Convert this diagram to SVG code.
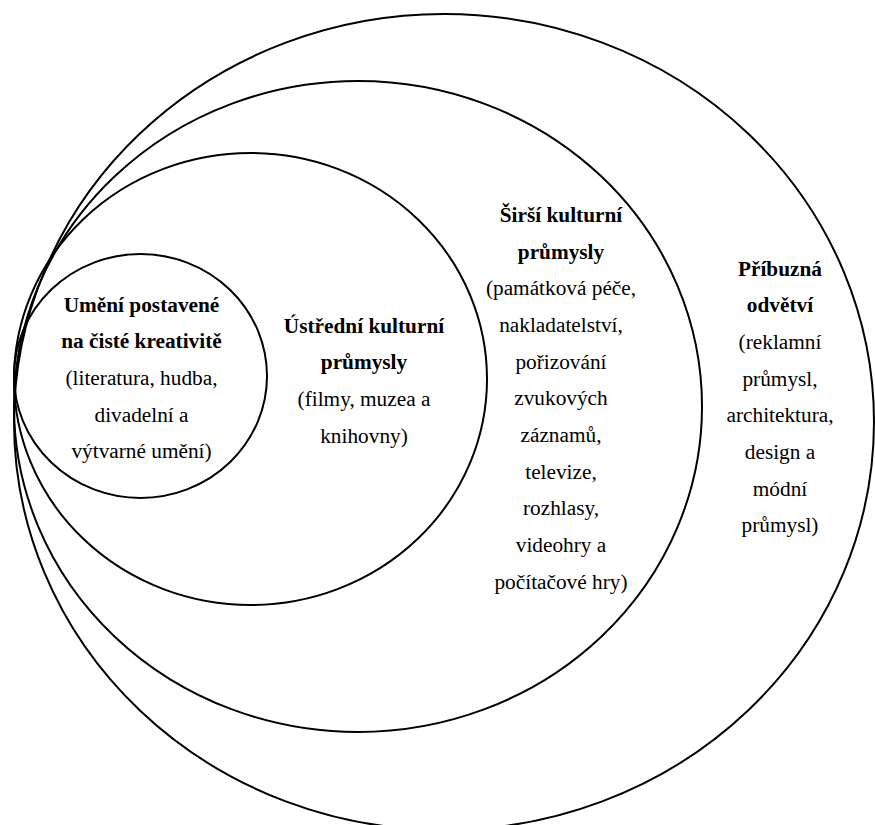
<svg xmlns="http://www.w3.org/2000/svg" width="875" height="825" viewBox="0 0 875 825">
<style>
.ring{fill:none;stroke:#000;stroke-width:2}
text{font-family:"Liberation Serif","Times New Roman",serif;font-size:21.3px;fill:#000;text-anchor:middle}
.b{font-weight:bold}
</style>
<rect width="875" height="825" fill="#fff"/>
<g id="outer">
<ellipse class="ring" cx="444" cy="422" rx="430" ry="408"/>
<text x="780" y="275.5" class="b">Příbuzná</text>
<text x="780" y="312.2" class="b">odvětví</text>
<text x="780" y="348.8">(reklamní</text>
<text x="780" y="385.5">průmysl,</text>
<text x="780" y="422.2">architektura,</text>
<text x="780" y="458.8">design a</text>
<text x="780" y="495.5">módní</text>
<text x="780" y="532.2">průmysl)</text>
</g>
<g id="wider">
<ellipse class="ring" cx="358" cy="406.5" rx="344" ry="325.5"/>
<text x="561" y="222" class="b">Širší kulturní</text>
<text x="561" y="258.7" class="b">průmysly</text>
<text x="561" y="295.3">(památková péče,</text>
<text x="561" y="332">nakladatelství,</text>
<text x="561" y="368.7">pořizování</text>
<text x="561" y="405.3">zvukových</text>
<text x="561" y="442">záznamů,</text>
<text x="561" y="478.7">televize,</text>
<text x="561" y="515.3">rozhlasy,</text>
<text x="561" y="552">videohry a</text>
<text x="561" y="588.7">počítačové hry)</text>
</g>
<g id="core">
<ellipse class="ring" cx="250.5" cy="379" rx="236.5" ry="226"/>
<text x="364" y="332.7" class="b">Ústřední kulturní</text>
<text x="364" y="369.3" class="b">průmysly</text>
<text x="364" y="406">(filmy, muzea a</text>
<text x="364" y="442.7">knihovny)</text>
</g>
<g id="arts">
<ellipse class="ring" cx="140.5" cy="376" rx="126.5" ry="122"/>
<text x="141.5" y="311.7" class="b">Umění postavené</text>
<text x="141.5" y="348.3" class="b">na čisté kreativitě</text>
<text x="141.5" y="385">(literatura, hudba,</text>
<text x="141.5" y="421.7">divadelní a</text>
<text x="141.5" y="458.3">výtvarné umění)</text>
</g>
<g id="connectors"></g>
</svg>
